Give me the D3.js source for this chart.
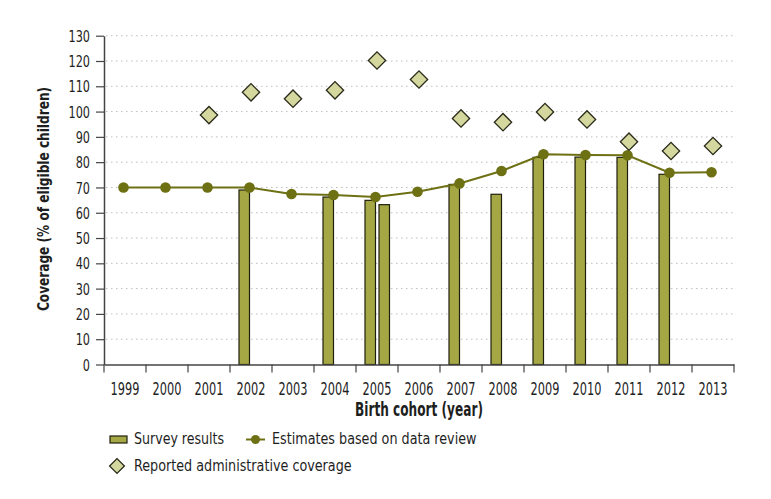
<!DOCTYPE html>
<html>
<head>
<meta charset="utf-8">
<script src="https://cdn.jsdelivr.net/npm/d3@7"></script>
<style>
  html, body { margin: 0; padding: 0; background: #fff; }
  svg { display: block; }
  text { font-family: "DejaVu Sans Condensed", "DejaVu Sans", sans-serif; fill: #1e1e1e; }
</style>
</head>
<body>
<svg id="chart" width="771" height="499"></svg>
<script>
// ---- Data ----
const years = ['1999','2000','2001','2002','2003','2004','2005','2006','2007','2008','2009','2010','2011','2012','2013'];
const estimates = [70, 70, 70, 70, 67.4, 67, 66.2, 68.3, 71.6, 76.5, 83.1, 82.8, 82.7, 75.8, 76];
const reported = [null, null, 98.6, 107.6, 105.1, 108.4, 120.2, 112.7, 97.3, 95.8, 99.8, 96.9, 88.1, 84.4, 86.4];
const surveyYears = ['2002','2004','2005','2005','2007','2008','2009','2010','2011','2012'];
const surveyValues = [69, 66.2, 64.9, 63.2, 71.2, 67.3, 81.9, 82, 81.9, 75.2];
const yTicks = [0,10,20,30,40,50,60,70,80,90,100,110,120,130];

const labels = {
  yTitle: 'Coverage (% of eligible children)',
  xTitle: 'Birth cohort (year)',
  survey: 'Survey results',
  estimates: 'Estimates based on data review',
  reported: 'Reported administrative coverage'
};

const colors = { bar: '#a4a743', barStroke: '#1f1f10', line: '#6e7014', diamond: '#d5d89e', diamondStroke: '#2a2a1a', axis: '#444', grid: '#bdbdbd' };

// ---- Layout ----
const svg = d3.select('#chart');
const mLeft = 104, mRight = 734, mTop = 35.7, mBottom = 364.5;

const x = d3.scaleBand().domain(years).range([mLeft, mRight]).padding(0);
const y = d3.scaleLinear().domain([0, 130]).range([mBottom, mTop]);
const cx = d => x(d) + x.bandwidth() / 2;

// horizontal squeeze helper for narrow type
function squeeze(sel, sx, xPos) {
  sel.attr('transform', `scale(${sx},1)`).attr('x', xPos / sx);
}

// gridlines
svg.append('g').selectAll('line').data(yTicks.filter(t => t > 0)).join('line')
  .attr('x1', mLeft + 2).attr('x2', mRight + 2)
  .attr('y1', d => y(d)).attr('y2', d => y(d))
  .attr('stroke', colors.grid).attr('stroke-width', 1)
  .attr('stroke-dasharray', '1.5,3.5');

// bars
const barW = 10.5, barGap = 3.5;
const counter = {};
const barData = surveyYears.map((yr, i) => {
  const k = counter[yr] || 0; counter[yr] = k + 1;
  return { year: yr, value: surveyValues[i], k };
});
svg.append('g').selectAll('rect').data(barData).join('rect')
  .attr('x', d => cx(d.year) - 1.5 - barW + d.k * (barW + barGap))
  .attr('width', barW)
  .attr('y', d => y(d.value))
  .attr('height', d => y(0) - y(d.value))
  .attr('fill', colors.bar)
  .attr('stroke', colors.barStroke).attr('stroke-width', 1.2);

// estimates line
const estData = years.map((yr, i) => ({ year: yr, value: estimates[i] }));
svg.append('path').datum(estData)
  .attr('d', d3.line().x(d => cx(d.year) - 1.5).y(d => y(d.value)))
  .attr('fill', 'none').attr('stroke', colors.line).attr('stroke-width', 2);
svg.append('g').selectAll('circle').data(estData).join('circle')
  .attr('cx', d => cx(d.year) - 1.5).attr('cy', d => y(d.value)).attr('r', 5.3)
  .attr('fill', colors.line);

// reported diamonds
const repData = years.map((yr, i) => ({ year: yr, value: reported[i] })).filter(d => d.value != null);
const diamond = d3.symbol().type(d3.symbolSquare).size(150);
svg.append('g').selectAll('path').data(repData).join('path')
  .attr('d', diamond)
  .attr('transform', d => `translate(${cx(d.year)},${y(d.value)}) rotate(45)`)
  .attr('fill', colors.diamond).attr('stroke', colors.diamondStroke).attr('stroke-width', 1.3);

// y axis
const yAxis = svg.append('g').attr('transform', `translate(${mLeft},0)`)
  .call(d3.axisLeft(y).tickValues(yTicks).tickSize(8).tickSizeOuter(0));
yAxis.select('.domain').attr('stroke', colors.axis).attr('stroke-width', 1.5);
yAxis.selectAll('.tick line').attr('stroke', colors.axis).attr('stroke-width', 1.2);
yAxis.selectAll('.tick text').attr('font-size', 16.5).attr('fill', '#1e1e1e')
  .attr('font-family', '"DejaVu Sans Condensed", sans-serif').attr('dy', '0.34em')
  .call(squeeze, 0.76, -14);

// x axis
const xAxis = svg.append('g').attr('transform', `translate(0,${mBottom})`)
  .call(d3.axisBottom(x).tickSize(0).tickSizeOuter(0));
xAxis.select('.domain').attr('stroke', colors.axis).attr('stroke-width', 1.5);
xAxis.selectAll('.tick text').attr('font-size', 18).attr('fill', '#1e1e1e')
  .attr('font-family', '"DejaVu Sans Condensed", sans-serif')
  .attr('y', 30.5).attr('dy', 0)
  .call(squeeze, 0.7, 0);
const boundaries = years.map(d => x(d)).concat([x(years[years.length - 1]) + x.bandwidth()]);
svg.append('g').selectAll('line').data(boundaries).join('line')
  .attr('x1', d => d).attr('x2', d => d)
  .attr('y1', mBottom).attr('y2', mBottom + 8)
  .attr('stroke', colors.axis).attr('stroke-width', 1.2);

// axis titles
svg.append('text')
  .attr('transform', `translate(48.5,199) rotate(-90) scale(0.87,1)`)
  .attr('text-anchor', 'middle').attr('font-size', 15.5).attr('font-weight', 'bold')
  .text(labels.yTitle);
svg.append('text')
  .attr('y', 416).attr('text-anchor', 'middle').attr('font-size', 19).attr('font-weight', 'bold')
  .text(labels.xTitle)
  .call(squeeze, 0.71, 419);

// legend
const lg = svg.append('g');
lg.append('rect').attr('x', 110).attr('y', 436).attr('width', 17).attr('height', 7)
  .attr('fill', colors.bar).attr('stroke', colors.barStroke).attr('stroke-width', 1.2);
lg.append('text').attr('y', 444).attr('font-size', 16.5).text(labels.survey).call(squeeze, 0.85, 134);
lg.append('line').attr('x1', 246).attr('x2', 265).attr('y1', 439.5).attr('y2', 439.5)
  .attr('stroke', colors.line).attr('stroke-width', 2);
lg.append('circle').attr('cx', 255.5).attr('cy', 439.5).attr('r', 4.5).attr('fill', colors.line);
lg.append('text').attr('y', 444).attr('font-size', 16.5).text(labels.estimates).call(squeeze, 0.86, 272);
lg.append('path').attr('d', d3.symbol().type(d3.symbolSquare).size(110))
  .attr('transform', 'translate(117,466) rotate(45)')
  .attr('fill', colors.diamond).attr('stroke', colors.diamondStroke).attr('stroke-width', 1.3);
lg.append('text').attr('y', 471).attr('font-size', 16.5).text(labels.reported).call(squeeze, 0.86, 134);
</script>
</body>
</html>
